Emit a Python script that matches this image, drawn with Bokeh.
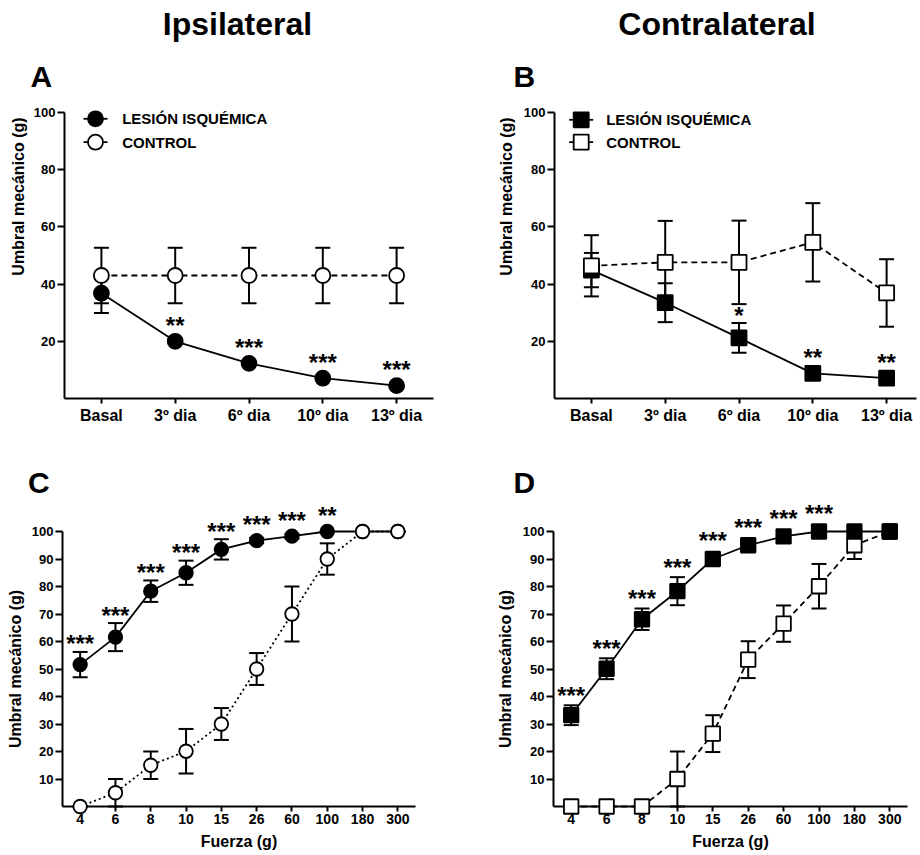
import math
from bokeh.plotting import figure
from bokeh.layouts import column, row
from bokeh.models import ColumnDataSource, FixedTicker
from bokeh.core.properties import value
from bokeh.embed import file_html
from bokeh.resources import INLINE

FONT = "Liberation Sans"

# ---------------- data ----------------
days = ["Basal", "3º dia", "6º dia", "10º dia", "13º dia"]
forces = ["4", "6", "8", "10", "15", "26", "60", "100", "180", "300"]
yticks_days = [20, 40, 60, 80, 100]
yticks_force = [10, 20, 30, 40, 50, 60, 70, 80, 90, 100]
series_names = ["LESIÓN ISQUÉMICA", "CONTROL"]

a_les = [36.8, 20.0, 12.3, 7.1, 4.5]
a_les_err = [6.9, 0.8, 0.6, 0.5, 0.4]
a_ctl = [43.0, 43.0, 43.0, 43.0, 43.0]
a_ctl_err = [9.7, 9.7, 9.7, 9.7, 9.7]
a_sig = ["", "**", "***", "***", "***"]

b_les = [44.9, 33.5, 21.2, 8.8, 7.1]
b_les_err = [6.0, 6.8, 5.2, 1.5, 1.2]
b_ctl = [46.4, 47.6, 47.6, 54.6, 36.9]
b_ctl_err = [10.7, 14.5, 14.6, 13.7, 11.8]
b_sig = ["", "", "*", "**", "**"]

c_les = [51.6, 61.6, 78.3, 85.0, 93.5, 96.7, 98.3, 100.0, 100.0, 100.0]
c_les_err = [4.6, 5.1, 3.9, 4.4, 3.7, 1.0, 0.8, 0.0, 0.0, 0.0]
c_ctl = [0.0, 5.0, 15.0, 20.1, 30.0, 50.0, 70.0, 90.0, 100.0, 100.0]
c_ctl_err = [0.0, 5.0, 5.0, 8.1, 5.8, 5.8, 10.0, 5.7, 0.0, 0.0]
c_sig = ["***", "***", "***", "***", "***", "***", "***", "**", "", ""]

d_les = [33.2, 50.1, 68.1, 78.3, 90.0, 95.0, 98.2, 100.0, 100.0, 100.0]
d_les_err = [3.6, 3.8, 3.9, 5.1, 1.5, 1.2, 1.0, 0.0, 0.0, 0.0]
d_ctl = [0.0, 0.0, 0.0, 10.0, 26.5, 53.4, 66.5, 80.1, 95.0, 100.0]
d_ctl_err = [0.0, 0.0, 0.0, 10.0, 6.7, 6.7, 6.6, 8.1, 5.0, 0.0]
d_sig = ["***", "***", "***", "***", "***", "***", "***", "***", "", ""]


def make_src(vals, errs):
    n = len(vals)
    return ColumnDataSource(dict(
        x=list(range(n)), y=vals,
        lo=[v - e for v, e in zip(vals, errs)],
        hi=[v + e for v, e in zip(vals, errs)],
    ))


class Panel:
    def __init__(self, cats, les, les_err, ctl, ctl_err, sig, yticks, *, marker, msize,
                 ctl_dash, frame_w, frame_h, borders, x_end, xfont, ctl_on_top, star_gap,
                 xlabel=None, ylabel=None, ylabel_standoff=4, xlabel_standoff=6,
                 xstandoff=4):
        left, right, top, bottom = borders
        self.x0, self.x1, self.fw, self.fh = -0.5, x_end, frame_w, frame_h
        self.marker, self.msize, self.ctl_dash = marker, msize, ctl_dash
        p = figure(frame_width=frame_w, frame_height=frame_h,
                   x_range=(-0.5, x_end), y_range=(0, 100),
                   min_border_left=left, min_border_right=right,
                   min_border_top=top, min_border_bottom=bottom,
                   output_backend="svg", toolbar_location=None,
                   background_fill_color="white", border_fill_color="white")
        self.p = p
        p.outline_line_color = None
        p.grid.visible = False

        les_src = make_src(les, les_err)
        ctl_src = make_src(ctl, ctl_err)

        self.lw = lw = 1.8
        p.line("x", "y", source=les_src, line_color="black", line_width=lw, level="overlay")
        p.line("x", "y", source=ctl_src, line_color="black", line_width=lw,
               line_dash=ctl_dash, level="overlay")
        cap = 15
        for src in (les_src, ctl_src):
            p.segment(x0="x", y0="lo", x1="x", y1="hi", source=src,
                      line_color="black", line_width=2, level="overlay")
            p.scatter("x", "lo", source=src, marker="dash", size=cap,
                      line_color="black", line_width=2, level="overlay")
            p.scatter("x", "hi", source=src, marker="dash", size=cap,
                      line_color="black", line_width=2, level="overlay")

        order = [(les_src, "black"), (ctl_src, "white")]
        if not ctl_on_top:
            order = order[::-1]
        for src, fill in order:
            p.scatter("x", "y", source=src, marker=marker, size=msize,
                      fill_color=fill, line_color="black", line_width=lw, level="overlay")

        # significance stars, placed above the error bar / marker
        ppu = frame_h / 100.0
        half = msize / 2.0 + 1
        star_y = [max(v + e, v + half / ppu) + star_gap / ppu
                  for v, e in zip(les, les_err)]
        star_src = ColumnDataSource(dict(x=list(range(len(les))), y=star_y, t=sig))
        p.text("x", "y", text="t", source=star_src, text_font=value(FONT),
               text_font_style="bold", text_font_size="24px", text_align="center",
               text_baseline="alphabetic", y_offset=2, text_color="black",
               level="overlay")

        # axes
        for ax in (p.xaxis[0], p.yaxis[0]):
            ax.axis_line_width = 2
            ax.axis_line_color = "black"
            ax.major_tick_line_width = 2
            ax.major_tick_line_color = "black"
            ax.minor_tick_line_color = None
            ax.major_tick_in = 0
            ax.major_label_text_font = FONT
            ax.major_label_text_font_style = "bold"
            ax.major_label_text_color = "black"
            ax.axis_label_text_font = FONT
            ax.axis_label_text_font_style = "bold"
            ax.axis_label_text_font_size = "16px"
            ax.axis_label_text_color = "black"
        p.xaxis.major_tick_out = 5
        p.yaxis.major_tick_out = 7
        p.yaxis.major_label_standoff = 2
        p.xaxis.major_label_standoff = xstandoff
        p.yaxis.ticker = FixedTicker(ticks=yticks)
        p.xaxis.ticker = FixedTicker(ticks=list(range(len(cats))))
        p.xaxis.major_label_overrides = {i: c for i, c in enumerate(cats)}
        p.xaxis.major_label_text_font_size = xfont
        p.yaxis.major_label_text_font_size = "13px"
        if xlabel:
            p.xaxis.axis_label = xlabel
            p.xaxis.axis_label_standoff = xlabel_standoff
        if ylabel:
            p.yaxis.axis_label = ylabel
            p.yaxis.axis_label_standoff = ylabel_standoff

    # pixel offsets (from frame left / bottom) -> data coordinates
    def dx(self, fx):
        return self.x0 + fx * (self.x1 - self.x0) / self.fw

    def dy(self, fy):
        return fy * 100.0 / self.fh

    def text(self, text, fx, fy, size, angle=0.0, align="left", baseline="alphabetic"):
        self.p.text(x=[self.dx(fx)], y=[self.dy(fy)], text=[text], text_font=value(FONT),
                    text_font_style="bold", text_font_size=size, text_color="black",
                    angle=angle, text_align=align, text_baseline=baseline, level="overlay")

    def legend(self, fx, fy_first, row_gap, label_dx, stub):
        fills = ["black", "white"]
        dashes = ["solid", self.ctl_dash]
        for k, name in enumerate(series_names):
            fy = fy_first - k * row_gap
            self.p.segment(x0=[self.dx(fx - stub)], y0=[self.dy(fy)],
                           x1=[self.dx(fx + stub)], y1=[self.dy(fy)],
                           line_color="black", line_width=1.8, line_dash=dashes[k],
                           level="overlay")
            self.p.scatter(x=[self.dx(fx)], y=[self.dy(fy)], marker=self.marker,
                           size=self.msize, fill_color=fills[k], line_color="black",
                           line_width=self.lw, level="overlay")
            self.text(name, fx + label_dx, fy, "15px", baseline="middle")


# ---------------- panels ----------------
A = Panel(days, a_les, a_les_err, a_ctl, a_ctl_err, a_sig, yticks_days,
          marker="circle", msize=15, ctl_dash="6 4",
          frame_w=369, frame_h=286, borders=(64, 27, 112, 27), x_end=4.5,
          xfont="16px", ctl_on_top=True, star_gap=9.5, xstandoff=3)
B = Panel(days, b_les, b_les_err, b_ctl, b_ctl_err, b_sig, yticks_days,
          marker="square", msize=15, ctl_dash="6 4",
          frame_w=362, frame_h=286, borders=(94, 2, 112, 27), x_end=4.405,
          xfont="16px", ctl_on_top=True, star_gap=9.5, xstandoff=3)
C = Panel(forces, c_les, c_les_err, c_ctl, c_ctl_err, c_sig, yticks_force,
          marker="circle", msize=13.5, ctl_dash="2 3",
          frame_w=353, frame_h=275, borders=(62, 45, 105, 48), x_end=9.5,
          xfont="14px", ctl_on_top=True, star_gap=10,
          xlabel="Fuerza (g)", ylabel="Umbral mecánico (g)",
          ylabel_standoff=5, xlabel_standoff=6, xstandoff=2)
D = Panel(forces, d_les, d_les_err, d_ctl, d_ctl_err, d_sig, yticks_force,
          marker="square", msize=14.5, ctl_dash="6 4",
          frame_w=354, frame_h=275, borders=(93, 11, 105, 48), x_end=9.5,
          xfont="14px", ctl_on_top=False, star_gap=12,
          xlabel="Fuerza (g)", ylabel="Umbral mecánico (g)",
          ylabel_standoff=6, xlabel_standoff=6, xstandoff=2)

# legends (top panels)
A.legend(31, 279.7, 23.4, 26.7, 12)
B.legend(26.7, 278.7, 22.4, 25, 12)

# y-axis titles of the top panels
A.text("Umbral mecánico (g)", -46.5, 202, "16px", angle=math.pi / 2,
       align="center", baseline="middle")
B.text("Umbral mecánico (g)", -47.7, 202, "16px", angle=math.pi / 2,
       align="center", baseline="middle")

# column titles
A.text("Ipsilateral", 173, 375, "32px", align="center")
B.text("Contralateral", 162.5, 375, "32px", align="center")

# panel letters
A.text("A", -34, 322, "30px")
B.text("B", -41, 322, "30px")
C.text("C", -34.5, 324, "30px")
D.text("D", -40, 324, "30px")

layout = column(row(A.p, B.p), row(C.p, D.p))
open("out.html", "w").write(file_html(layout, INLINE))
